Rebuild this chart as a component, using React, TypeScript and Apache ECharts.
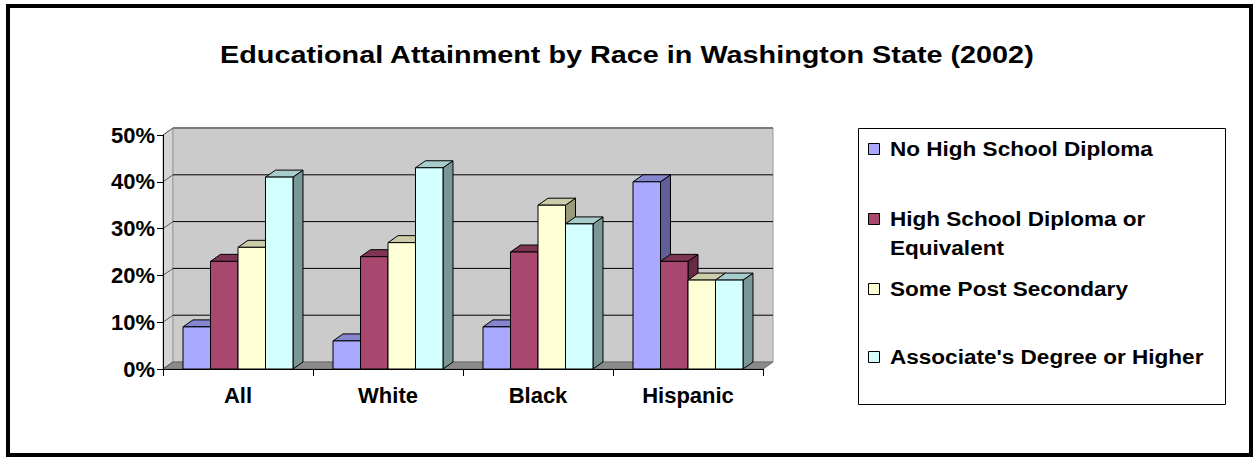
import React, { useEffect, useRef } from "react";
import * as echarts from "echarts";

const categories = ["All", "White", "Black", "Hispanic"];
const seriesNames = [
  "No High School Diploma",
  "High School Diploma or Equivalent",
  "Some Post Secondary",
  "Associate's Degree or Higher",
];
const legendLabels = [
  "No High School Diploma",
  "High School Diploma or\nEquivalent",
  "Some Post Secondary",
  "Associate's Degree or Higher",
];
const noDiploma = [9, 6, 9, 40];
const hsDiploma = [23, 24, 25, 23];
const somePost = [26, 27, 35, 19];
const associate = [41, 43, 31, 19];
const allSeries = [noDiploma, hsDiploma, somePost, associate];
const yMax = 50;
const yStep = 10;

const FONT = '"Liberation Sans", Arial, Helvetica, sans-serif';
const frontColors = ["#A9A9FF", "#A8486F", "#FFFFD6", "#D4FFFF"];
const topColors = ["#8585D0", "#7E3553", "#CCCCA8", "#A6CCCC"];
const sideColors = ["#5F5F99", "#6A2A45", "#99997C", "#7A9797"];
const DX = 10;
const DY = -7;

export default function App() {
  const ref = useRef<HTMLDivElement>(null);
  useEffect(() => {
    document.body.style.margin = "0";
    const chart = echarts.init(ref.current!, null, { renderer: "svg" });

    const wallSeries: any = {
      type: "custom",
      z: 1,
      silent: true,
      data: [[0, 0]],
      renderItem: (params: any, api: any) => {
        const cs = params.coordSys;
        const left = cs.x;
        const right = cs.x + cs.width;
        const yb = api.coord([0, 0])[1];
        const yt = api.coord([0, yMax])[1];
        const children: any[] = [];
        // left side wall
        children.push({
          type: "polygon",
          shape: { points: [[left, yt], [left + DX, yt + DY], [left + DX, yb + DY], [left, yb]] },
          style: { fill: "#D4D4D4", stroke: "#9A9A9A", lineWidth: 1 },
        });
        // back wall
        children.push({
          type: "rect",
          shape: { x: left + DX, y: yt + DY, width: right - left, height: yb - yt },
          style: { fill: "#CBCBCB", stroke: "#9A9A9A", lineWidth: 1 },
        });
        // floor
        children.push({
          type: "polygon",
          shape: { points: [[left, yb], [left + DX, yb + DY], [right + DX, yb + DY], [right, yb]] },
          style: { fill: "#8A8A8A", stroke: "#6A6A6A", lineWidth: 1 },
        });
        for (let v = 0; v <= yMax; v += yStep) {
          const y = api.coord([0, v])[1];
          children.push({
            type: "line",
            shape: { x1: left, y1: y, x2: left + DX, y2: y + DY },
            style: { stroke: "#5A5A5A", lineWidth: 1 },
          });
          if (v > 0 && v < yMax) {
            children.push({
              type: "line",
              shape: { x1: left + DX, y1: y + DY, x2: right + DX, y2: y + DY },
              style: { stroke: "#000", lineWidth: 1 },
            });
          }
        }
        children.push({
          type: "line",
          shape: { x1: left + DX, y1: yt + DY, x2: right + DX, y2: yt + DY },
          style: { stroke: "#7A7A7A", lineWidth: 2 },
        });
        return { type: "group", children };
      },
    };

    const barSeries = allSeries.map((vals, si) => ({
      type: "custom",
      name: seriesNames[si],
      z: 2 + si,
      data: vals.map((v, ci) => [ci, v]),
      renderItem: (params: any, api: any) => {
        const catW = api.size([1, 0])[0];
        const [cx, y1] = api.coord([api.value(0), api.value(1)]);
        const y0 = api.coord([api.value(0), 0])[1];
        const bw = catW * 0.1833;
        const gapL = (catW - 4 * bw) / 2;
        const x0 = cx - catW / 2 + gapL + si * bw;
        const x1 = x0 + bw;
        return {
          type: "group",
          children: [
            {
              type: "polygon",
              shape: { points: [[x1, y1], [x1 + DX, y1 + DY], [x1 + DX, y0 + DY], [x1, y0]] },
              style: { fill: sideColors[si], stroke: "#000", lineWidth: 1 },
            },
            {
              type: "polygon",
              shape: { points: [[x0, y1], [x0 + DX, y1 + DY], [x1 + DX, y1 + DY], [x1, y1]] },
              style: { fill: topColors[si], stroke: "#000", lineWidth: 1 },
            },
            {
              type: "rect",
              shape: { x: x0, y: y1, width: bw, height: y0 - y1 },
              style: { fill: frontColors[si], stroke: "#000", lineWidth: 1 },
            },
          ],
        };
      },
    }));

    const graphics: any[] = [
      {
        type: "rect",
        shape: { x: 8, y: 6, width: 1243, height: 449 },
        style: { fill: "none", stroke: "#000", lineWidth: 4 },
        z: 100,
      },
      {
        type: "text",
        x: 220,
        y: 55,
        scaleX: 1.2,
        style: {
          text: "Educational Attainment by Race in Washington State (2002)",
          font: `bold 24px ${FONT}`,
          fill: "#000",
          align: "left",
          verticalAlign: "middle",
        },
      },
      {
        type: "rect",
        shape: { x: 858.5, y: 128.5, width: 367, height: 276 },
        style: { fill: "#fff", stroke: "#000", lineWidth: 1 },
      },
    ];
    const legendY = [149, 219, 289, 357];
    legendLabels.forEach((lab, i) => {
      graphics.push({
        type: "rect",
        shape: { x: 868.5, y: legendY[i] - 5.5, width: 11, height: 11 },
        style: { fill: frontColors[i], stroke: "#000", lineWidth: 1 },
      });
      graphics.push({
        type: "text",
        x: 890,
        y: legendY[i],
        scaleX: 1.1,
        style: {
          text: lab,
          font: `bold 20.5px ${FONT}`,
          fill: "#000",
          align: "left",
          verticalAlign: "top",
          lineHeight: 29,
          y: -14.5,
        },
      });
    });

    chart.setOption({
      animation: false,
      backgroundColor: "#fff",
      grid: { left: 163, top: 135, width: 600, height: 234 },
      xAxis: {
        type: "category",
        data: categories,
        boundaryGap: true,
        axisLine: { lineStyle: { color: "#000", width: 1 } },
        axisTick: { show: true, length: 7, lineStyle: { color: "#000" } },
        axisLabel: {
          color: "#000",
          fontWeight: "bold",
          fontSize: 22,
          fontFamily: FONT,
          margin: 15,
        },
        splitLine: { show: false },
        z: 20,
      },
      yAxis: {
        type: "value",
        min: 0,
        max: yMax,
        interval: yStep,
        axisLine: { show: true, lineStyle: { color: "#000", width: 1 } },
        axisTick: { show: true, length: 6, lineStyle: { color: "#000" } },
        axisLabel: {
          color: "#000",
          fontWeight: "bold",
          fontSize: 22,
          fontFamily: FONT,
          margin: 8,
          formatter: "{value}%",
        },
        splitLine: { show: false },
        z: 20,
      },
      graphic: graphics,
      series: [wallSeries, ...barSeries],
    });
    return () => chart.dispose();
  }, []);
  return (
    <div
      ref={ref}
      style={{ position: "absolute", left: 0, top: 0, width: 1253, height: 458 }}
    />
  );
}
